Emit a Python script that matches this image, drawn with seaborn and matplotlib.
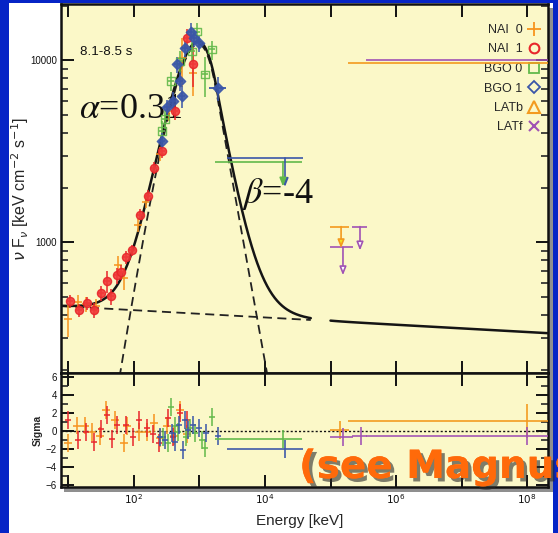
import numpy as np
import matplotlib
matplotlib.use("Agg")
import matplotlib.pyplot as plt
import matplotlib.patheffects as pe
from matplotlib.patches import Rectangle
from matplotlib.lines import Line2D
from matplotlib.ticker import FixedLocator, FuncFormatter, LogLocator, MultipleLocator, NullLocator, NullFormatter
import seaborn as sns

# ---------------- fit parameters ----------------
ALPHA = 0.31          # Band low-energy index
BETA = -4.0           # Band high-energy index
EPEAK = 950.0         # keV
FPEAK = 12300.0       # Band nuFnu at Epeak
PL_NORM = 445.0       # power-law nuFnu at 10 keV
PL_INDEX = -2.02      # power-law photon index

# ---------------- spectral data points (keV, nuFnu) ----------------
nai0_e = [9.8, 14.0, 18.5, 26.3, 57, 70.3, 115, 152, 249, 342, 541, 796]
nai0_f = [379, 470, 458, 447, 748, 635, 1240, 1675, 3060, 5260, 10250, 8490]
nai0_ferr = [0.20, 0.10, 0.09, 0.09, 0.12, 0.14, 0.08, 0.08, 0.09, 0.12, 0.30, 0.25]

nai1_e = [10.5, 14.5, 19.1, 24.5, 31.3, 38.7, 44.6, 55, 63.4, 75.5, 93, 124, 164, 202, 267, 423, 644, 796]
nai1_f = [477, 425, 465, 425, 526, 612, 507, 661, 686, 828, 904, 1422, 1807, 2570, 3185, 5260, 13200, 9500]
nai1_ferr = [0.08, 0.08, 0.08, 0.09, 0.09, 0.14, 0.10, 0.10, 0.09, 0.08, 0.07, 0.07, 0.07, 0.08, 0.09, 0.10, 0.12, 0.25]

bgo0_e = [267, 297, 367, 504, 767, 916, 1213, 1552]
bgo0_f = [4090, 4770, 7680, 9880, 11200, 14400, 8380, 11480]
bgo0_ferr = [0.14, 0.12, 0.12, 0.14, 0.12, 0.12, 0.25, 0.12]

bgo1_e = [267, 319, 394, 453, 504, 541, 601, 742, 824, 982, 1915]
bgo1_f = [3610, 5530, 5970, 9500, 7680, 6350, 11640, 14400, 13200, 12390, 7030]
bgo1_ferr = [0.10, 0.10, 0.12, 0.10, 0.12, 0.14, 0.10, 0.12, 0.10, 0.10, 0.15]

# upper limits: (bin low, bin high, arrow energy, limit, arrow tip)
bgo0_ul = [(1740, 36600, 18800, 2775, 2030)]
bgo1_ul = [(2600, 38000, 20200, 2910, 2020)]
latb_ul = [(98000, 190000, 145000, 1222, 930), (186000, 2.1e8, 1e8, 9630, 9630)]
latf_ul = [(98000, 220000, 155000, 940, 661), (213000, 360000, 282000, 1222, 904),
           (347000, 2.1e8, 1e8, 10000, 10000)]

# ---------------- residuals (sigma) ----------------
nai0_res_e = [9.8, 13.5, 17.9, 22.9, 30.3, 37.4, 51.3, 70.3, 78.2, 119, 158, 202, 249, 319, 408, 504, 644]
nai0_res = [-1.4, 0.6, 0.6, -0.1, -0.6, 2.3, 1.2, -1.4, 0.5, -0.1, -0.1, 0.9, -0.8, 0.6, -0.6, 2.3, -0.3]
nai1_res_e = [9.8, 14.0, 18.5, 24.5, 31.3, 38.7, 46.2, 55, 75.5, 96.5, 119, 158, 195, 241, 330, 394, 504, 644]
nai1_res = [1.2, -1.0, -0.1, -1.2, 0.2, 1.8, -0.9, 0.7, 0.7, -0.7, 1.2, 0.3, -0.3, -1.4, 1.4, -0.7, 2.0, 1.2]
bgo0_res_e = [277, 330, 367, 423, 470, 622, 716, 853, 1092, 1213, 1552]
bgo0_res = [-0.7, -1.3, 2.7, 0.5, -0.1, -0.7, 0.3, -0.2, -1.0, -1.9, 1.6]
bgo1_res_e = [249, 297, 380, 423, 486, 560, 601, 667, 796, 982, 1256, 1915]
bgo1_res = [-0.7, -1.0, -0.2, -1.2, 0.7, -2.1, 1.2, 0.1, 0.7, 0.3, -0.2, -0.6]
# wide-bin residuals: (bin low, bin high, energy, sigma, error)
bgo0_res_wide = [(1740, 36600, 18800, -0.9, 1.0)]
bgo1_res_wide = [(2600, 38000, 20200, -2.0, 1.0)]
latb_res = [(98000, 190000, 140000, 0.1, 1.0), (186000, 2.1e8, 1e8, 1.1, 1.9)]
latf_res = [(98000, 220000, 155000, -0.7, 1.0), (213000, 360000, 292000, -0.6, 1.0),
            (347000, 2.1e8, 1e8, -0.6, 1.0)]

# colours
C_NAI0 = "#F7941D"
C_NAI1 = "#E8262B"
C_BGO0 = "#62B94A"
C_BGO1 = "#3A56A8"
C_LATB = "#F39A1E"
C_LATF = "#A052B4"
PANEL = "#FBF8C8"
SLIDE = "#0624C6"


def band_nufnu(e):
    e = np.asarray(e, float)
    eb = (ALPHA - BETA) / (ALPHA + 2.0) * EPEAK
    lo = FPEAK * (e / EPEAK) ** (ALPHA + 2) * np.exp((ALPHA + 2) * (1 - e / EPEAK))
    fb = FPEAK * (eb / EPEAK) ** (ALPHA + 2) * np.exp((ALPHA + 2) * (1 - eb / EPEAK))
    hi = fb * (e / eb) ** (BETA + 2)
    return np.where(e < eb, lo, hi)


def pl_nufnu(e):
    return PL_NORM * (np.asarray(e, float) / 10.0) ** (PL_INDEX + 2)


W, H = 558, 533
fig = plt.figure(figsize=(W / 100, H / 100), dpi=100, facecolor=SLIDE)


def frect(x0, y0, x1, y1):
    return [x0 / W, 1 - y1 / H, (x1 - x0) / W, (y1 - y0) / H]


fig.patches.append(Rectangle((9 / W, 0), (553 - 9) / W, 1 - 3 / H, transform=fig.transFigure,
                             facecolor="white", edgecolor="none", zorder=-3))
fig.patches.append(Rectangle((64 / W, 1 - 492 / H), (553 - 64) / W, (492 - 8) / H, transform=fig.transFigure,
                             facecolor="#8f8f8f", edgecolor="none", zorder=-2))

sns.set_style("ticks")
plt.rcParams["font.family"] = ["Liberation Sans", "DejaVu Sans"]

ax = fig.add_axes(frect(61, 4, 548, 373))
axr = fig.add_axes(frect(61, 373, 548, 487), sharex=ax)
for a in (ax, axr):
    a.set_facecolor(PANEL)
    for s in a.spines.values():
        s.set_linewidth(1.8)
        s.set_color("#111111")

XMIN, XMAX = 7.69, 2.09e8
ax.set_xscale("log")
ax.set_yscale("log")
ax.set_xlim(XMIN, XMAX)
ax.set_ylim(192, 20400)
axr.set_ylim(-6.25, 6.45)

# ---------------- model curves ----------------
e_gbm = np.logspace(np.log10(XMIN), np.log10(5.0e4), 500)
e_lat = np.logspace(5.0, np.log10(XMAX), 120)
sns.lineplot(x=e_gbm, y=band_nufnu(e_gbm), ax=ax, color="#222222", lw=1.3, linestyle=(0, (5, 3)), zorder=3)
sns.lineplot(x=e_gbm, y=pl_nufnu(e_gbm), ax=ax, color="#222222", lw=1.3, linestyle=(0, (5, 3)), zorder=3)
sns.lineplot(x=e_gbm, y=band_nufnu(e_gbm) + pl_nufnu(e_gbm), ax=ax, color="#151515", lw=1.8, zorder=4)
sns.lineplot(x=e_lat, y=band_nufnu(e_lat) + pl_nufnu(e_lat), ax=ax, color="#151515", lw=1.8, zorder=4)


def xerr_of(e, dex):
    e = np.asarray(e, float)
    return [e - e / 10 ** dex, e * 10 ** dex - e]


def points(e, f, ferr, color, dex, marker=None, s=30, face=None, alpha=0.85):
    e = np.asarray(e, float)
    f = np.asarray(f, float)
    fe = np.asarray(ferr, float) * f
    ax.errorbar(e, f, xerr=xerr_of(e, dex), yerr=fe, fmt="none", ecolor=color,
                elinewidth=1.3, alpha=alpha, zorder=5)
    if marker is not None:
        sns.scatterplot(x=e, y=f, ax=ax, marker=marker, s=s,
                        color=face if face is not None else color,
                        edgecolor=color, linewidth=1.0, zorder=6, alpha=0.9)


points(nai0_e, nai0_f, nai0_ferr, C_NAI0, 0.055)
points(nai1_e, nai1_f, nai1_ferr, C_NAI1, 0.05, marker="o", s=34, face="#F03A3A")
points(bgo0_e, bgo0_f, bgo0_ferr, C_BGO0, 0.05, marker="s", s=30, face="none")
points(bgo1_e, bgo1_f, bgo1_ferr, C_BGO1, 0.05, marker="D", s=28)
# wider last BGO1 bin
ax.errorbar([bgo1_e[-1]], [bgo1_f[-1]], xerr=xerr_of([bgo1_e[-1]], 0.13), fmt="none",
            ecolor=C_BGO1, elinewidth=1.3, zorder=5)


def upper_limits(ul, color, head_face, lw=1.2):
    for lo, hi, ea, lim, tip in ul:
        ax.hlines(lim, lo, hi, color=color, lw=lw, zorder=5)
        if tip < lim:
            ax.annotate("", xy=(ea, tip), xytext=(ea, lim),
                        arrowprops=dict(arrowstyle="-|>,head_length=0.5,head_width=0.2",
                                        color=color, fc=head_face, lw=lw,
                                        shrinkA=0, shrinkB=0), zorder=6)


upper_limits(bgo1_ul, C_BGO1, C_BGO1)
upper_limits(bgo0_ul, C_BGO0, C_BGO0)
upper_limits(latb_ul, C_LATB, "#F4E21C")
upper_limits(latf_ul, C_LATF, "white")

# ---------------- residuals ----------------
axr.axhline(0, color="#111111", lw=1.0, ls=(0, (1.5, 1.5)), zorder=2)


def resid(e, r, color, dex):
    e = np.asarray(e, float)
    axr.errorbar(e, r, xerr=xerr_of(e, dex), yerr=1.0, fmt="none", ecolor=color,
                 elinewidth=1.3, alpha=0.85, zorder=4)


def resid_wide(rows, color):
    for lo, hi, e, r, err in rows:
        axr.errorbar([e], [r], xerr=[[e - lo], [hi - e]], yerr=err, fmt="none",
                     ecolor=color, elinewidth=1.3, alpha=0.9, zorder=4)


resid(nai0_res_e, nai0_res, C_NAI0, 0.06)
resid(nai1_res_e, nai1_res, C_NAI1, 0.05)
resid(bgo0_res_e, bgo0_res, C_BGO0, 0.045)
resid(bgo1_res_e, bgo1_res, C_BGO1, 0.045)
resid_wide(bgo0_res_wide, C_BGO0)
resid_wide(bgo1_res_wide, C_BGO1)
resid_wide(latb_res, C_LATB)
resid_wide(latf_res, C_LATF)

# ---------------- ticks ----------------
dec = 10.0 ** np.arange(1, 9)
ax.xaxis.set_major_locator(FixedLocator(dec))
ax.xaxis.set_minor_locator(NullLocator())


def xlab(v, p):
    k = int(round(np.log10(v)))
    return r"$10^{%d}$" % k if k % 2 == 0 else ""


axr.xaxis.set_major_formatter(FuncFormatter(xlab))
plt.setp(ax.get_xticklabels(), visible=False)
ax.yaxis.set_major_locator(LogLocator(base=10, subs=(1.0,)))
ax.yaxis.set_minor_locator(LogLocator(base=10, subs=np.arange(2, 10)))
ax.yaxis.set_major_formatter(FuncFormatter(lambda v, p: "%d" % v))
ax.yaxis.set_minor_formatter(NullFormatter())
axr.yaxis.set_major_locator(MultipleLocator(2))
axr.yaxis.set_minor_locator(MultipleLocator(1))
axr.yaxis.set_major_formatter(FuncFormatter(lambda v, p: "%d" % v if v >= 0 else "\u2212%d" % -v))

for a in (ax, axr):
    a.tick_params(which="major", direction="in", length=9, width=1.4, top=True, right=True,
                  labelsize=7, pad=3, colors="#111111")
    a.tick_params(which="minor", direction="in", length=5, width=1.2, top=True, right=True)
axr.tick_params(axis="x", labelsize=7.5, pad=4)

# ---------------- labels ----------------
ax.set_ylabel(r"$\nu$ F$_\nu$ [keV cm$^{-2}$ s$^{-1}$]", fontsize=11.5)
ax.yaxis.set_label_coords((20 - 61) / 487, 0.5)
ax.yaxis.label.set_va("center")
axr.set_ylabel("Sigma", fontsize=7.5, fontweight="bold")
axr.yaxis.set_label_coords((38 - 61) / 487, 0.5)
axr.yaxis.label.set_va("center")
axr.set_xlabel("Energy [keV]", fontsize=11)
axr.xaxis.set_label_coords(0.49, -0.24)

ax.text(80 / W, 1 - 52 / H, "8.1-8.5 s", transform=fig.transFigure, fontsize=9.6,
        va="center", ha="left", color="#111111")
t = ax.text(79 / W, 1 - 110 / H, r"$\alpha$=0.31", transform=fig.transFigure, fontsize=26,
            va="center", ha="left", family="Liberation Serif", color="#111111")
t.set_math_fontfamily("stix")
t = ax.text(242 / W, 1 - 194 / H, r"$\beta$=-4", transform=fig.transFigure, fontsize=26,
            va="center", ha="left", family="Liberation Serif", color="#111111")
t.set_math_fontfamily("stix")

handles = [
    Line2D([], [], ls="none", marker="+", ms=10, mew=1.3, color=C_NAI0),
    Line2D([], [], ls="none", marker="o", ms=7, mew=1.5, mfc="none", color=C_NAI1),
    Line2D([], [], ls="none", marker="s", ms=7, mew=1.3, mfc="none", color=C_BGO0),
    Line2D([], [], ls="none", marker="D", ms=6, mew=1.3, mfc="none", color=C_BGO1),
    Line2D([], [], ls="none", marker="^", ms=8, mew=1.5, mfc="none", color=C_LATB),
    Line2D([], [], ls="none", marker="x", ms=7, mew=1.5, color=C_LATF),
]
labels = ["NAI  0", "NAI  1", "BGO 0", "BGO 1", "LATb", "LATf"]
leg = ax.legend(handles, labels, loc="upper right", bbox_to_anchor=((544 - 61) / 487, 1 - (19 - 4) / 369),
                frameon=False, markerfirst=False, handlelength=0.8, handletextpad=0.5,
                labelspacing=0.6, fontsize=9, borderaxespad=0)
leg.set_zorder(2)

fig.text(299 / W, 1 - 478 / H, "(see Magnus", fontsize=28, fontweight="bold",
         family=["DejaVu Sans"], color="#FF6A0A", ha="left", va="baseline",
         path_effects=[pe.withSimplePatchShadow(offset=(2.5, -2.5), shadow_rgbFace="#2a2a2a", alpha=0.6),
                       pe.Normal()])

fig.savefig("out.png", dpi=100, facecolor=SLIDE)
